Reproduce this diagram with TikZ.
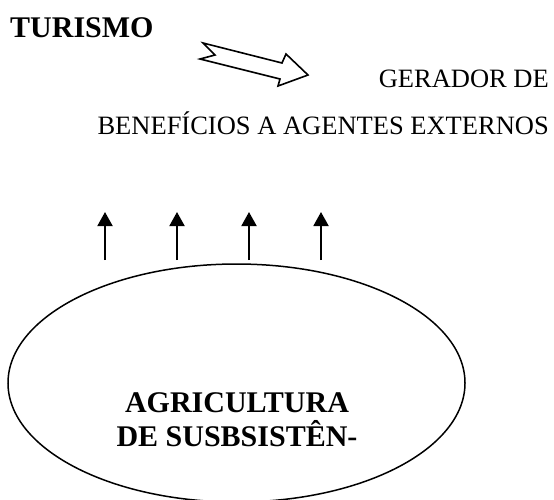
\documentclass[tikz,border=0pt]{standalone}
\usepackage{fontspec}
\setmainfont{Liberation Serif}
\usetikzlibrary{arrows.meta,shapes.geometric}
\begin{document}
\begin{tikzpicture}[x=1pt,y=-1pt,
  boldtxt/.style={font=\bfseries\fontsize{30}{34}\selectfont, inner sep=0pt},
  regtxt/.style={font=\fontsize{26.5}{30}\selectfont, inner sep=0pt},
  uparrow/.style={line width=1.9pt, -{Triangle[length=14pt,width=15pt]}},
  outline/.style={line width=1.6pt, line join=miter}
]
\useasboundingbox (0,0) rectangle (554,499);
% title
\node[boldtxt, anchor=base west] (tur) at (10,37) {TURISMO};
% block arrow
\draw[outline] (203,43) -- (282,63) -- (286,54) -- (308,75) -- (278,86) -- (280,79) -- (200,59) -- (215,55) -- cycle;
% right texts
\node[regtxt, anchor=base east] (ger) at (549,87) {GERADOR DE};
\node[regtxt, anchor=base east] (ben) at (549,134) {BENEFÍCIOS A AGENTES EXTERNOS};
% ellipse
\node[draw, line width=1.5pt, ellipse, minimum width=457pt, minimum height=238pt, inner sep=0pt] (agr) at (236.5,383) {};
\node[boldtxt, align=center, anchor=base] (agrtxt) at (237,446) {AGRICULTURA\\DE SUSBSISTÊN-};
% vertical arrows
\foreach \i/\x in {1/105,2/177,3/249,4/321}{
  \coordinate (s\i) at (\x,260);
  \coordinate (t\i) at (\x,212);
  \draw[uparrow] (s\i) -- (t\i);
}
\end{tikzpicture}
\end{document}
